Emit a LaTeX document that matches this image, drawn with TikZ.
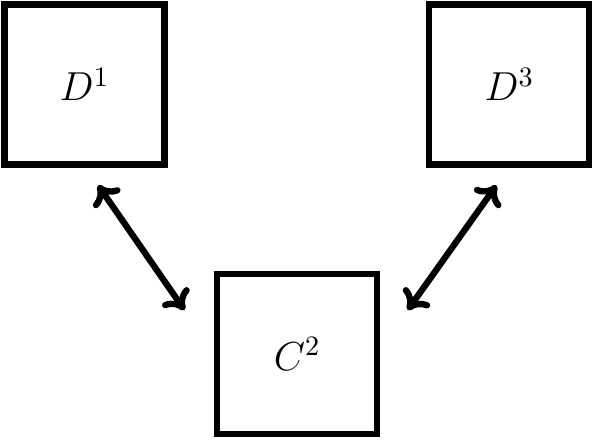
\documentclass[tikz,border=0pt]{standalone}
\usepackage{amsmath}
\usepackage{tikz}
\usetikzlibrary{arrows.meta,positioning}

\begin{document}
\begin{tikzpicture}[>={To[length=6.5pt,width=11.5pt]}, font=\Large,
    box/.style={draw, line width=2.25pt, minimum size=2cm, outer sep=0pt}]
        \useasboundingbox (-1.056,1.056) rectangle (6.394,-4.531);
        % Top left
        \node[box] (d1) {$D^1$};
        % Top right
        \node[box, right=3.31cm of d1] (d3) {$D^3$};
        % Bottom
        \node[box, below=1.37cm of d1.south, xshift=2.66cm] (c2) {$C^2$};

        % Arrows
        \draw[<->, line width=2.25pt] ([xshift=0.17cm, yshift=-0.26cm]d1.south)
            -- ([xshift=-0.41cm, yshift=0.55cm]c2.west);
        \draw[<->, line width=2.25pt] ([xshift=-0.16cm, yshift=-0.26cm]d3.south)
            -- ([xshift=0.38cm, yshift=0.55cm]c2.east);
    \end{tikzpicture}
\end{document}
